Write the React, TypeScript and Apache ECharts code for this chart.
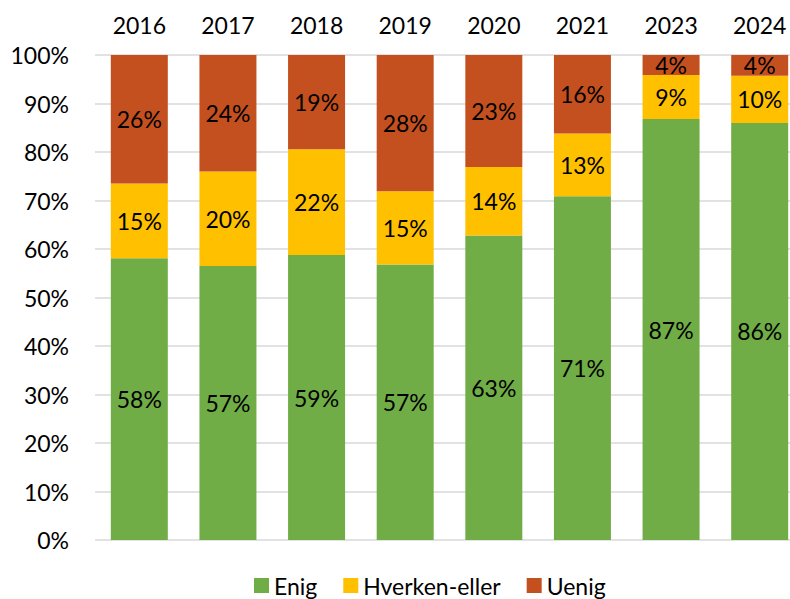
import React, { useEffect, useRef } from "react";
import * as echarts from "echarts";

const years = ["2016", "2017", "2018", "2019", "2020", "2021", "2023", "2024"];
const enig = [57.9, 56.5, 58.7, 56.8, 62.8, 70.9, 86.8, 86.0];
const hverken = [15.4, 19.5, 21.8, 15.1, 14.1, 12.9, 9.1, 9.7];
const uenig = [26.4, 24.0, 19.4, 28.1, 23.1, 16.2, 4.1, 4.3];
const yTicks = [0, 10, 20, 30, 40, 50, 60, 70, 80, 90, 100];

const FONT = "Lato";
const FS = 23;

export default function App() {
  const ref = useRef<HTMLDivElement>(null);
  useEffect(() => {
    if (!ref.current) return;
    const chart = echarts.init(ref.current, null, { renderer: "svg" });
    const totals = years.map((_, i) => enig[i] + hverken[i] + uenig[i]);
    const mk = (name: string, raw: number[], color: string) => ({
      name,
      type: "bar",
      stack: "all",
      barWidth: 57,
      itemStyle: { color },
      data: raw.map((v, i) => ({ value: (v / totals[i]) * 100, raw: v })),
      label: {
        show: true,
        position: "inside",
        color: "#000",
        fontFamily: FONT,
        fontSize: FS,
        formatter: (p: any) => Math.round(p.data.raw) + "%",
      },
    });
    chart.setOption({
      animation: false,
      textStyle: { fontFamily: FONT },
      grid: { left: 95, right: 16, top: 55, bottom: 59 },
      xAxis: {
        type: "category",
        data: years,
        position: "top",
        axisLine: { show: false },
        axisTick: { show: false },
        axisLabel: {
          color: "#000",
          fontFamily: FONT,
          fontSize: FS,
          lineHeight: 24,
          margin: 18,
        },
      },
      yAxis: {
        type: "value",
        min: yTicks[0],
        max: yTicks[yTicks.length - 1],
        interval: 10,
        axisLine: { show: false },
        axisTick: { show: false },
        splitLine: { lineStyle: { color: "#d9d9d9", width: 1.5 } },
        axisLabel: {
          color: "#000",
          fontFamily: FONT,
          fontSize: FS,
          margin: 26,
          formatter: "{value}%",
        },
      },
      legend: {
        left: 249,
        top: 569,
        itemWidth: 15,
        itemHeight: 15,
        itemGap: 26,
        icon: "rect",
        textStyle: { color: "#000", fontFamily: FONT, fontSize: FS, lineHeight: 23 },
        data: ["Enig", "Hverken-eller", "Uenig"],
      },
      series: [
        mk("Enig", enig, "#70AD47"),
        mk("Hverken-eller", hverken, "#FFC000"),
        mk("Uenig", uenig, "#C4501F"),
      ],
    });
    return () => chart.dispose();
  }, []);
  return (
    <div
      style={{ position: "fixed", left: 0, top: 0, width: 790, height: 599, overflow: "hidden", background: "#fff" }}
    >
      <div ref={ref} style={{ width: 820, height: 599 }} />
    </div>
  );
}
